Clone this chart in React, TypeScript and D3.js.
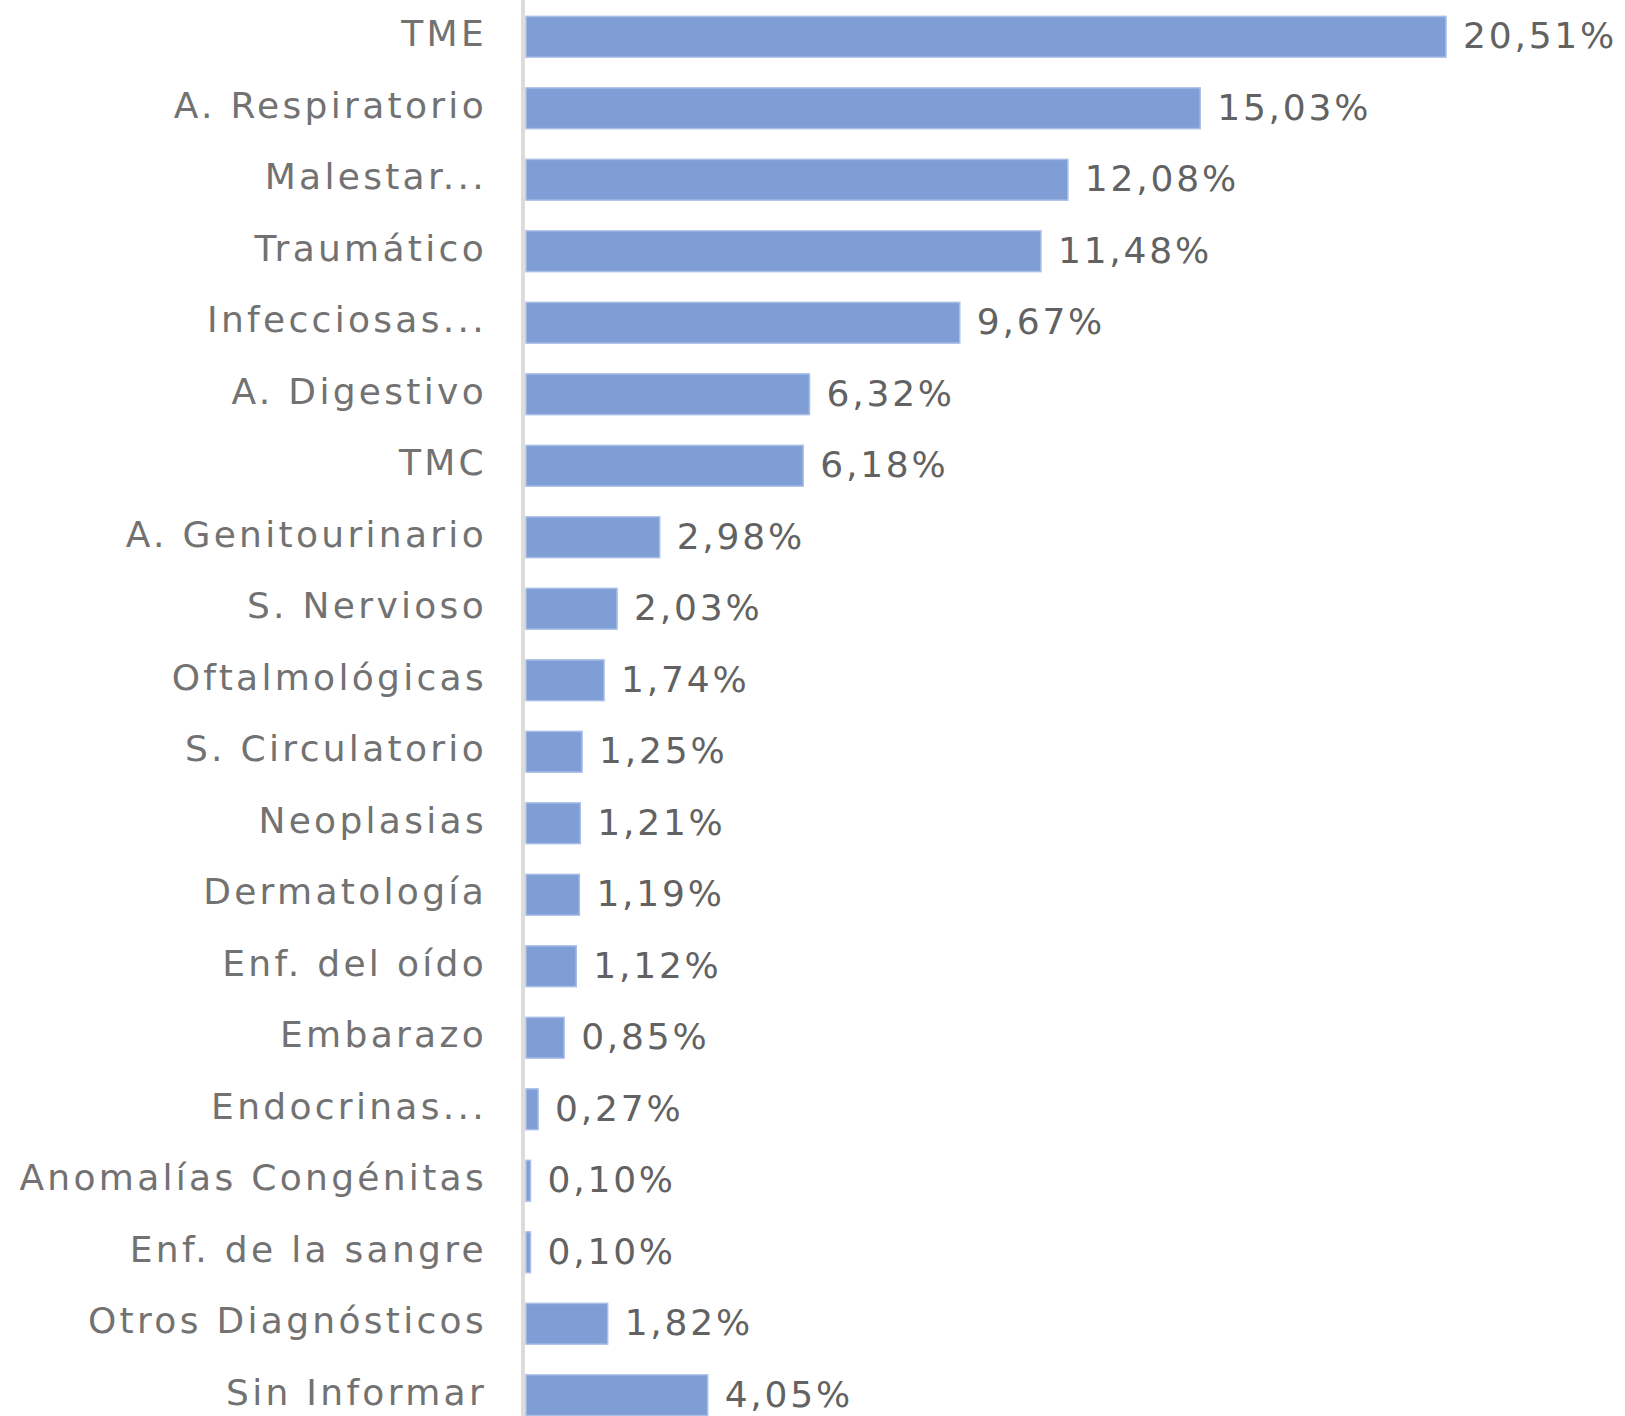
import React from "react";
import * as d3 from "d3";

const categories: string[] = [
  "TME",
  "A. Respiratorio",
  "Malestar...",
  "Traumático",
  "Infecciosas...",
  "A. Digestivo",
  "TMC",
  "A. Genitourinario",
  "S. Nervioso",
  "Oftalmológicas",
  "S. Circulatorio",
  "Neoplasias",
  "Dermatología",
  "Enf. del oído",
  "Embarazo",
  "Endocrinas...",
  "Anomalías Congénitas",
  "Enf. de la sangre",
  "Otros Diagnósticos",
  "Sin Informar",
];

const values: number[] = [
  20.51, 15.03, 12.08, 11.48, 9.67, 6.32, 6.18, 2.98, 2.03, 1.74, 1.25, 1.21,
  1.19, 1.12, 0.85, 0.27, 0.1, 0.1, 1.82, 4.05,
];

const W = 1625;
const H = 1416;

export default function App() {
  const x = d3.scaleLinear().domain([0, 20.51]).range([526, 1446]);
  const y = d3
    .scaleBand<string>()
    .domain(categories)
    .range([1, 1431])
    .paddingInner(0.43)
    .paddingOuter(0.215);
  const fmt = (v: number) => v.toFixed(2).replace(".", ",") + "%";
  const font = "'DejaVu Sans', Verdana, sans-serif";
  return (
    <svg
      width={W}
      height={H}
      style={{ position: "absolute", left: 0, top: 0, background: "#fff" }}
    >
      <line x1={523} x2={523} y1={0} y2={H} stroke="#dcdcdc" strokeWidth={4} />
      {categories.map((c, i) => {
        const y0 = y(c)!;
        const bh = y.bandwidth();
        const cy = y0 + bh / 2;
        const xe = x(values[i]);
        return (
          <g key={c}>
            <rect
              x={x(0)}
              y={y0}
              width={Math.max(0, xe - x(0))}
              height={bh}
              fill="#7f9ed6"
              stroke="#a9bee6"
              strokeWidth={1.5}
            />
            <text
              x={487}
              y={cy - 3}
              textAnchor="end"
              dominantBaseline="central"
              fontFamily={font}
              fontSize={36}
              letterSpacing={3.3}
              fill="#727272"
            >
              {c}
            </text>
            <text
              x={xe + 17}
              y={cy - 1}
              dominantBaseline="central"
              fontFamily={font}
              fontSize={36}
              letterSpacing={2.8}
              fill="#626262"
            >
              {fmt(values[i])}
            </text>
          </g>
        );
      })}
    </svg>
  );
}
